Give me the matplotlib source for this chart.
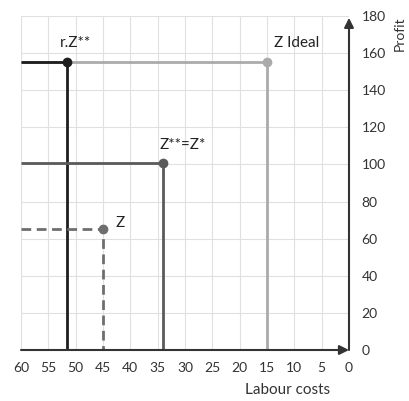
import matplotlib
matplotlib.use("Agg")
import matplotlib.pyplot as plt

plt.rcParams['font.family'] = ['Lato', 'DejaVu Sans']

# Data (labour costs, profit)
names = ["Z Ideal", "r.Z**", "Z**=Z*", "Z"]
labour = [15, 51.5, 34, 45]
profit = [155, 155, 101, 65]
colors = ["#ababab", "#1e1e1e", "#5a5a5a", "#6e6e6e"]
styles = ["-", "-", "-", "--"]
label_pos = [(13.8, 165.5, 'left'), (50.1, 165.5, 'center'), (30.5, 110.5, 'center'), (41.8, 68.5, 'center')]

xticks = [60, 55, 50, 45, 40, 35, 30, 25, 20, 15, 10, 5, 0]
yticks = [0, 20, 40, 60, 80, 100, 120, 140, 160, 180]

fig = plt.figure(figsize=(4.09, 4.01), dpi=100)
ax = fig.add_axes([21/409, 1-350/401, 328/409, 334/401])
ax.set_xlim(60, 0)
ax.set_ylim(0, 180)

# grid
for x in xticks:
    ax.axvline(x, color="#e0e0e0", lw=0.8, zorder=0)
for y in yticks:
    ax.axhline(y, color="#e0e0e0", lw=0.8, zorder=0)

for s in ax.spines.values():
    s.set_visible(False)

for n, lx, py, c, ls, (tx, ty, ha) in zip(names, labour, profit, colors, styles, label_pos):
    ax.plot([60, lx, lx], [py, py, 0], color=c, lw=2, ls=ls, zorder=3,
            solid_capstyle='butt', dashes=(3.5, 2) if ls == '--' else (None, None))
    ax.plot([lx], [py], 'o', color=c, ms=6, zorder=4, clip_on=False)
    ax.text(tx, ty, n, ha=ha, va='center', fontsize=11, color="#222222")

# axes arrows
ax.annotate('', xy=(0, 0), xytext=(60, 0),
            arrowprops=dict(arrowstyle='-|>', color='#333333', lw=1.5,
                            mutation_scale=14, shrinkA=0, shrinkB=0), zorder=5)
ax.annotate('', xy=(0, 179), xytext=(0, 0),
            arrowprops=dict(arrowstyle='-|>', color='#333333', lw=1.5,
                            mutation_scale=14, shrinkA=0, shrinkB=0), zorder=5)

ax.set_xticks(xticks)
ax.set_xticklabels([str(v) for v in xticks])
ax.set_yticks(yticks)
ax.set_yticklabels([str(v) for v in yticks])
ax.yaxis.tick_right()
ax.tick_params(axis='x', length=0, pad=9, labelsize=10, labelcolor='#333333')
ax.tick_params(axis='y', length=0, pad=9, labelsize=10, labelcolor='#333333')

fig.text(330/409, 1-390/401, "Labour costs", ha='right', va='center', fontsize=11, color='#333333')
fig.text(400/409, 1-34/401, "Profit", ha='center', va='center', rotation=90, fontsize=10, color='#333333')

fig.savefig("out.png", dpi=100)
